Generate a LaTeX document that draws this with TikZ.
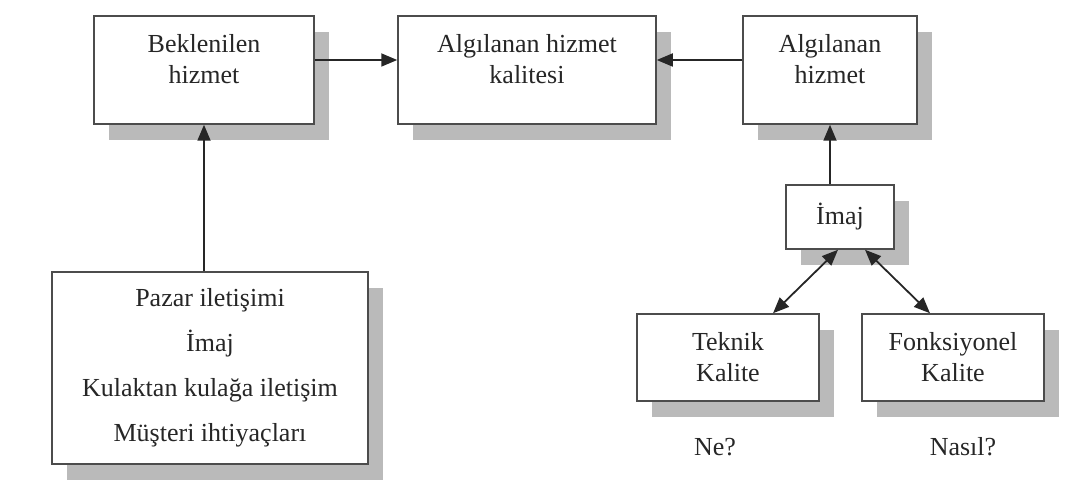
\documentclass[tikz,border=0pt]{standalone}
\usepackage{fontspec}
\setmainfont{Liberation Serif}
\usetikzlibrary{arrows.meta}
\usetikzlibrary{shadows}

\tikzset{
    box/.style={draw=black!70, line width=1.5pt, fill=white, align=center, text=black!85,
        general shadow={fill=black!27, shadow xshift=15pt, shadow yshift=-16pt}},
    link/.style={draw=black!85, line width=1.8pt}
}

\begin{document}
\begin{tikzpicture}[x=1pt, y=-1pt, >={Triangle[length=16pt, width=13pt]},
        every node/.style={font=\fontsize{26}{31}\selectfont}]
        \useasboundingbox (0,0) rectangle (1082,484);

        % Top row
        \node[box, minimum width=220pt, minimum height=108pt] (bek) at (204,70) {Beklenilen\\hizmet\\[-9pt]\mbox{}};
        \node[box, minimum width=258pt, minimum height=108pt] (kal) at (527,70) {Alg\i lanan hizmet\\kalitesi\\[-9pt]\mbox{}};
        \node[box, minimum width=174pt, minimum height=108pt] (alg) at (830,70) {Alg\i lanan\\hizmet\\[-9pt]\mbox{}};

        \draw[link, ->] ([yshift=10pt]bek.east) -- ([yshift=10pt]kal.west);
        \draw[link, ->] ([yshift=10pt]alg.west) -- ([yshift=10pt]kal.east);

        % Left column
        \node[box, minimum width=316pt, minimum height=192pt] (pazar) at (210,368)
            {Pazar ileti\c{s}imi\\[14pt]\.Imaj\\[14pt]Kulaktan kula\u{g}a ileti\c{s}im\\[14pt]M\"u\c{s}teri ihtiya\c{c}lar\i};
        \draw[link, ->] (bek.south |- pazar.north) -- (bek.south);

        % Right column
        \node[box, minimum width=108pt, minimum height=64pt] (imaj) at (840,217) {\.Imaj};
        \draw[link, ->] (alg.south |- imaj.north) -- (alg.south);

        \node[box, minimum width=182pt, minimum height=87pt] (tek) at (728,357.5) {Teknik\\Kalite};
        \node[box, minimum width=182pt, minimum height=87pt] (fon) at (953,357.5) {Fonksiyonel\\Kalite};

        \draw[link, <->] ([xshift=-2pt]imaj.south) -- ([xshift=45pt]tek.north);
        \draw[link, <->] ([xshift=25pt]imaj.south) -- ([xshift=-23pt]fon.north);

        % Questions
        \node[text=black!85] (ne) at (715,447) {Ne?};
        \node[text=black!85] (nasil) at (963,447) {Nas\i l?};
\end{tikzpicture}
\end{document}
